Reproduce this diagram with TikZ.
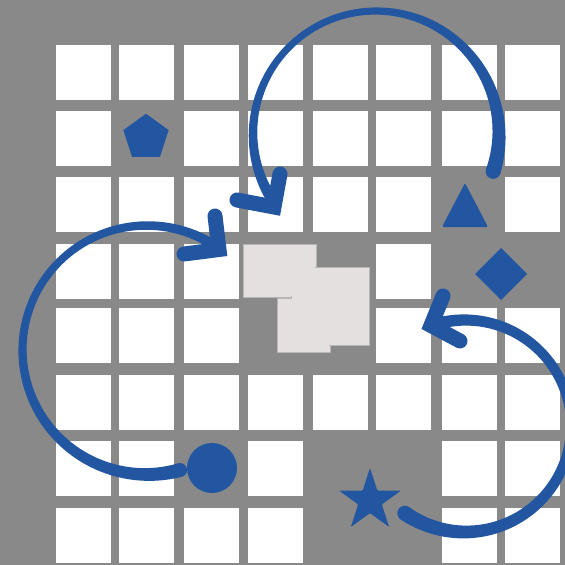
\documentclass[tikz,border=0pt]{standalone}
\usepackage{xcolor}
\usetikzlibrary{shapes.geometric}

\definecolor{board}{HTML}{898989}
\definecolor{ink}{HTML}{2256A1}
\definecolor{patchfill}{HTML}{E3E0DF}
\definecolor{patchline}{HTML}{B9B7B6}

% tapered arc: centre x, centre y, radius, start angle, end angle, widths at start/middle/end
\newcommand{\swirlarc}[8]{%
  \fill[swirl] plot[domain=#4:#5, samples=90]
      ({#1+(#3+0.5*tw((\x-(#4))/((#5)-(#4)),#6,#7,#8))*cos(\x)},
       {#2+(#3+0.5*tw((\x-(#4))/((#5)-(#4)),#6,#7,#8))*sin(\x)})
    -- plot[domain=#5:#4, samples=90]
      ({#1+(#3-0.5*tw((\x-(#4))/((#5)-(#4)),#6,#7,#8))*cos(\x)},
       {#2+(#3-0.5*tw((\x-(#4))/((#5)-(#4)),#6,#7,#8))*sin(\x)})
    -- cycle;
  \fill[swirl] ({#1+#3*cos(#4)},{#2+#3*sin(#4)}) circle ({0.5*#6pt});
}

\begin{document}
\begin{tikzpicture}[
    x=1pt, y=-1pt,
    declare function={tw(\t,\a,\b,\c)=\a+(-3*\a+4*\b-\c)*\t+(2*\a-4*\b+2*\c)*\t*\t;},
    tile/.style={fill=white},
    patch/.style={fill=patchfill, draw=patchline, line width=0.8pt},
    glyph/.style={fill=ink, draw=none, inner sep=0pt, outer sep=0pt},
    swirl/.style={fill=ink},
    chevron/.style={draw=ink, line width=15pt, line cap=round, line join=miter},
]
\useasboundingbox (0,0) rectangle (565,565);
\clip (0,0) rectangle (565,565);
\fill[board] (0,0) rectangle (565,565);

% board tiles, row by row
\foreach \y/\xs in {45/{56,119,184,248,313,376,442,505},
                    111/{56,184,248,313,376,442,505},
                    177/{56,119,184,248,313,376,505},
                    244/{56,119,184,376},
                    308/{56,119,184,376,442,505},
                    375/{56,119,184,248,313,376,442,505},
                    441/{56,119,248,442,505},
                    508/{56,119,184,248,442,505}}
  \foreach \x in \xs
    \fill[tile] (\x,\y) rectangle ++(55,55);

% target patches in the middle (outlines first, then the insides over them)
\foreach \xa/\ya/\xb/\yb in {277/298/330/352, 243/244/316/297, 291/267/369/345}
  \draw[patch] (\xa,\ya) rectangle (\xb,\yb);
\foreach \xa/\ya/\xb/\yb in {277/298/330/352, 243/244/316/297, 291/267/369/345}
  \fill[patchfill] (\xa+0.8,\ya+0.8) rectangle (\xb-0.8,\yb-0.8);

% pieces
\node[glyph, regular polygon, regular polygon sides=5, minimum size=47.6pt] (pent) at (146,137.5) {};
\node[glyph, circle, minimum size=50pt] (disc) at (212,468) {};
\node[glyph, diamond, minimum width=52pt, minimum height=52pt] (diam) at (501,274) {};
\fill[ink, rounded corners=2pt] (465,183) -- (488,227) -- (442,227) -- cycle;
\fill[ink, rounded corners=1pt] (370,468.0)
  \foreach \a/\rr in {-54/12.45, -18/32.6, 18/12.45, 54/32.6, 90/12.45,
                      126/32.6, 162/12.45, 198/32.6, 234/12.45}
    { -- ({370+\rr*cos(\a)},{500.6+\rr*sin(\a)}) } -- cycle;

% moves
\coordinate (headA) at (274,207);
\coordinate (armA1) at (237,200);
\coordinate (armA2) at (280,174);
\coordinate (headB) at (219,249.5);
\coordinate (armB1) at (184,254);
\coordinate (armB2) at (215,216);
\coordinate (headC) at (431,325.5);
\coordinate (armC1) at (460,341);
\coordinate (armC2) at (443,296);

\swirlarc{376}{134}{123}{17.7}{-214.5}{15}{7}{11}
\swirlarc{147}{350}{124.5}{74.6}{306}{14}{8}{10}
\swirlarc{465}{426}{106}{124.6}{-108}{15}{10}{12}

\draw[chevron] (armA1) -- (headA) -- (armA2);
\draw[chevron] (armB1) -- (headB) -- (armB2);
\draw[chevron] (armC1) -- (headC) -- (armC2);
\end{tikzpicture}
\end{document}
